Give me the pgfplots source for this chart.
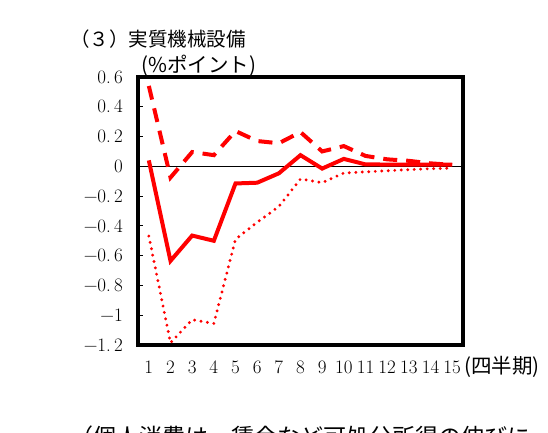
\documentclass[border=0pt]{standalone}
\usepackage{fontspec}
\usepackage{pgfplots}
\pgfplotsset{compat=1.18}
\newfontfamily\jp{Noto Sans CJK JP}
\newcommand\tickfont{\fontsize{19}{21}\selectfont}

\begin{document}
\begin{tikzpicture}
\useasboundingbox (0pt,0pt) rectangle (548pt,432pt);
\begin{scope}
  \clip (0pt,0pt) rectangle (548pt,432pt);
  \node[anchor=base west,inner sep=0pt] at (70pt,-13pt) {\jp\fontsize{23}{26}\selectfont （個人消費は、賃金など可処分所得の伸びに};
\end{scope}
\node[anchor=west,inner sep=0pt] at (70pt,393pt) {\jp\fontsize{19.5}{22}\selectfont （３）実質機械設備};
\node[anchor=west,inner sep=0pt] at (141pt,366pt) {\jp\fontsize{20.5}{22}\selectfont (\%ポイント)};
\node[anchor=west,inner sep=0pt] at (464pt,65pt) {\jp\fontsize{20.5}{22}\selectfont (四半期)};
\begin{axis}[
  at={(138pt,87pt)}, anchor=south west,
  scale only axis,
  width=325pt, height=268pt,
  xmin=0.5, xmax=15.5,
  ymin=-1.2, ymax=0.6,
  axis line style={line width=3.5pt},
  xtick={1,...,15},
  xticklabels={1,2,3,4,5,6,7,8,9,10,11,12,13,14,15},
  major x tick style={draw=none},
  ytick={-1.2,-1,-0.8,-0.6,-0.4,-0.2,0,0.2,0.4,0.6},
  yticklabels={−1.\,2,−1,−0.\,8,−0.\,6,−0.\,4,−0.\,2,0,0.\,2,0.\,4,0.\,6},
  ytick pos=left,
  tick align=inside,
  major tick length=5pt,
  major y tick style={black,line width=1pt},
  yticklabel style={font=\tickfont, anchor=east, inner xsep=0pt, xshift=-15pt},
  xticklabel style={font=\tickfont, yshift=-12pt, inner xsep=0pt},
  clip=false,
]
\addplot[black, line width=0.8pt, forget plot] coordinates {(0.5,0) (15.5,0)};
% 中央値
\addplot[red, line width=4pt, line join=miter] coordinates {
(1,0.04) (2,-0.635) (3,-0.465) (4,-0.5) (5,-0.115) (6,-0.11) (7,-0.047)
(8,0.075) (9,-0.015) (10,0.05) (11,0.013) (12,0.012) (13,0.012) (14,0.012) (15,0.012)};
% 上限
\addplot[red, line width=4pt, dash pattern=on 14pt off 9pt] coordinates {
(1,0.54) (2,-0.075) (3,0.096) (4,0.075) (5,0.237) (6,0.17) (7,0.155)
(8,0.23) (9,0.10) (10,0.136) (11,0.07) (12,0.047) (13,0.037) (14,0.02) (15,0.01)};
% 下限
\addplot[red, line width=3.2pt, line cap=round, dash pattern=on 0pt off 6.5pt] coordinates {
(1,-0.468) (2,-1.185) (3,-1.03) (4,-1.055) (5,-0.49) (6,-0.376) (7,-0.27)
(8,-0.085) (9,-0.11) (10,-0.045) (11,-0.037) (12,-0.03) (13,-0.022) (14,-0.016) (15,-0.012)};
\end{axis}
\end{tikzpicture}
\end{document}
